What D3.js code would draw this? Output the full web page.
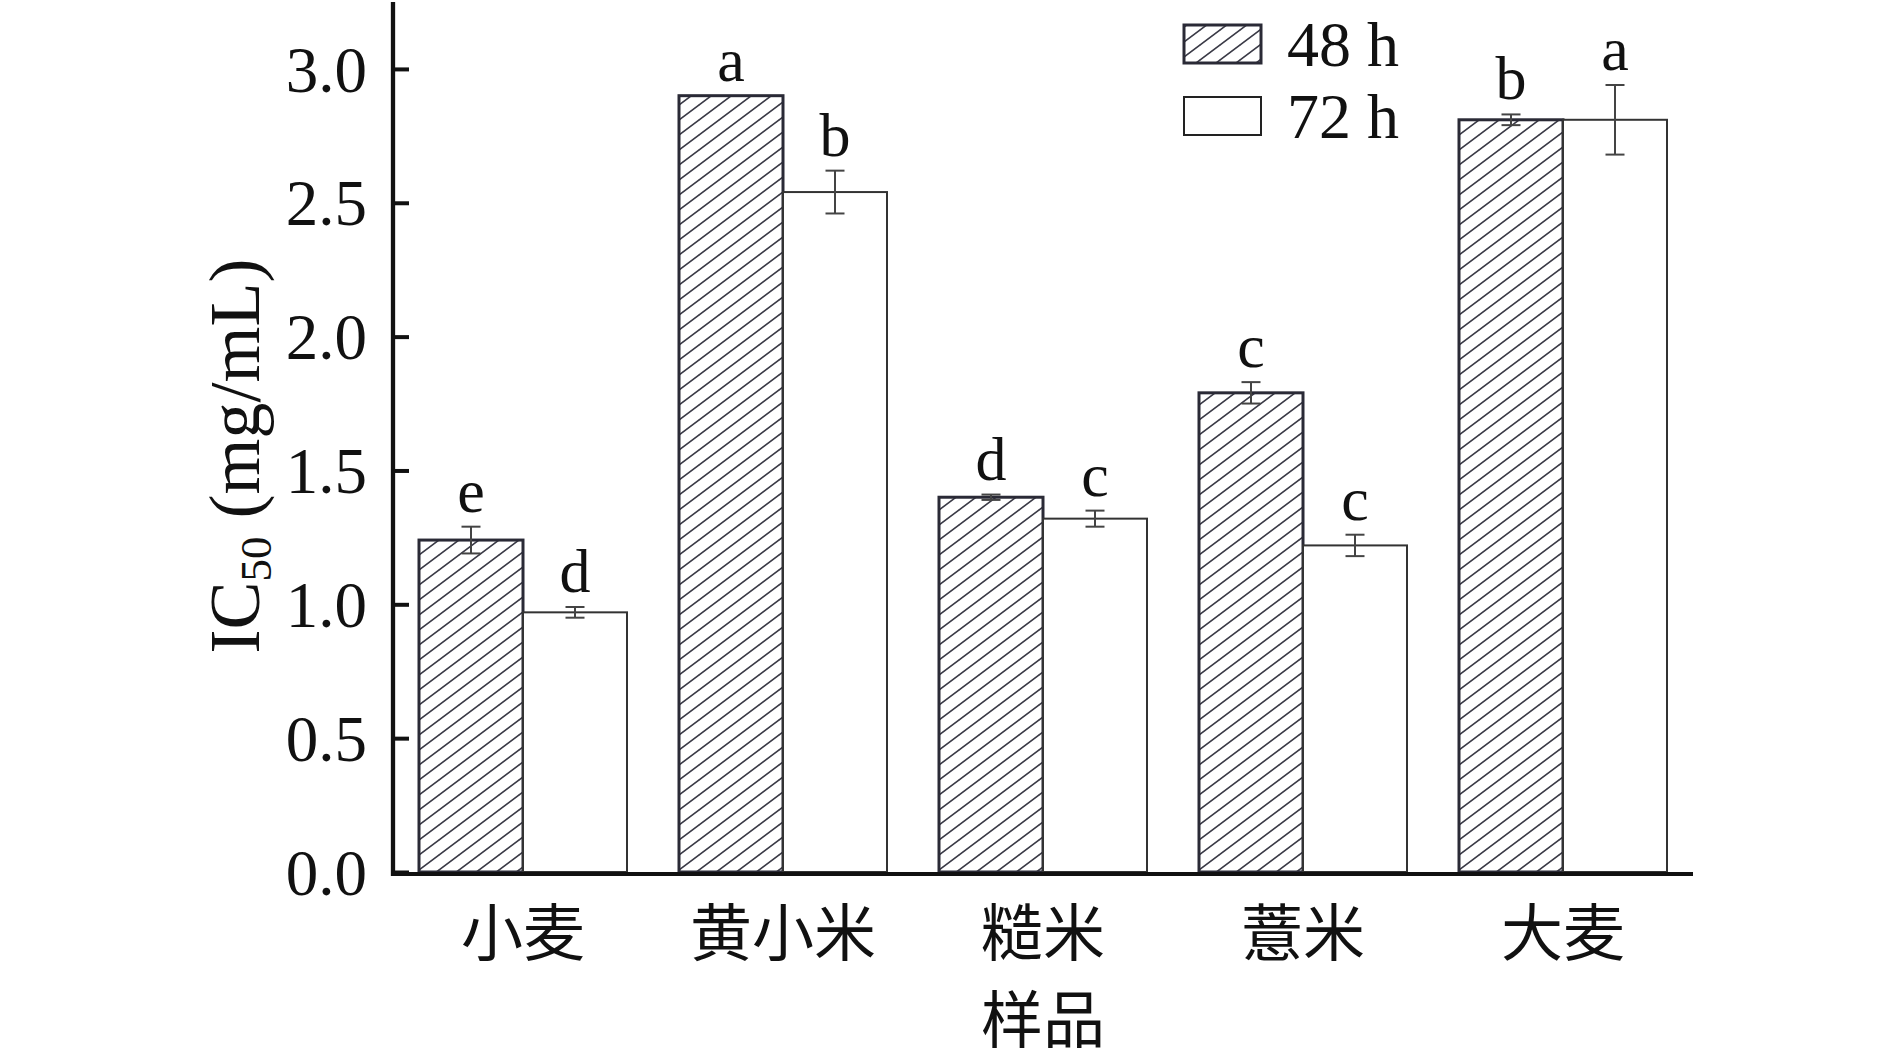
<!DOCTYPE html>
<html>
<head>
<meta charset="utf-8">
<script src="https://cdn.jsdelivr.net/npm/d3@7"></script>
<style>
  html, body { margin: 0; padding: 0; background: #fff; }
  svg { display: block; }
</style>
</head>
<body>
<svg id="chart" width="1890" height="1063"></svg>
<script>
// ---- data ----
const categories = ["小麦", "黄小米", "糙米", "薏米", "大麦"];
const seriesNames = ["48 h", "72 h"];
const values48 = [1.24, 2.90, 1.40, 1.79, 2.81];
const values72 = [0.97, 2.54, 1.32, 1.22, 2.81];
const errors48 = [0.05, 0.00, 0.01, 0.04, 0.02];
const errors72 = [0.02, 0.08, 0.03, 0.04, 0.13];
const letters48 = ["e", "a", "d", "c", "b"];
const letters72 = ["d", "b", "c", "c", "a"];
const yTicks = [0, 0.5, 1.0, 1.5, 2.0, 2.5, 3.0];
const yTitle = "IC";
const ySub = "50";
const yUnit = " (mg/mL)";
const xTitle = "样品";

// ---- layout ----
const svg = d3.select("#chart");
const serif = "'Liberation Serif', 'Times New Roman', serif";
const cjk = "'Noto Sans CJK SC', 'Noto Sans CJK JP', sans-serif";

const x0 = d3.scaleBand().domain(categories).range([393, 1693]).paddingInner(0.2).paddingOuter(0.1);
const x1 = d3.scaleBand().domain(seriesNames).range([0, x0.bandwidth()]);
const y = d3.scaleLinear().domain([0, 3.25]).range([872, 2]);

const defs = svg.append("defs");
const pat = defs.append("pattern")
  .attr("id", "hatch").attr("patternUnits", "userSpaceOnUse")
  .attr("width", 20).attr("height", 15);
pat.append("rect").attr("width", 20).attr("height", 15).attr("fill", "#fff");
pat.append("path")
  .attr("d", "M-20,15 L0,0 M0,15 L20,0 M20,15 L40,0 M-20,30 L0,15 M0,30 L20,15 M0,0 L20,-15 M-20,0 L0,-15 M20,30 L40,15")
  .attr("stroke", "#3a3a46").attr("stroke-width", 1.6).attr("fill", "none");

const rows = categories.map((c, i) => ({
  cat: c,
  items: [
    { s: "48 h", v: values48[i], e: errors48[i], l: letters48[i] },
    { s: "72 h", v: values72[i], e: errors72[i], l: letters72[i] }
  ]
}));

const g = svg.append("g");
const groups = g.selectAll("g.grp").data(rows).join("g")
  .attr("class", "grp")
  .attr("transform", d => `translate(${x0(d.cat)},0)`);

groups.selectAll("rect").data(d => d.items).join("rect")
  .attr("x", d => x1(d.s))
  .attr("y", d => y(d.v))
  .attr("width", x1.bandwidth())
  .attr("height", d => y(0) - y(d.v))
  .attr("fill", d => d.s === "48 h" ? "url(#hatch)" : "#fff")
  .attr("stroke", d => d.s === "48 h" ? "#2a2a36" : "#333")
  .attr("stroke-width", d => d.s === "48 h" ? 3 : 2);

// error bars
const eb = groups.selectAll("g.eb").data(d => d.items.filter(it => it.e > 0)).join("g")
  .attr("class", "eb")
  .attr("stroke", "#444").attr("stroke-width", 2);
eb.append("line")
  .attr("x1", d => x1(d.s) + x1.bandwidth() / 2).attr("x2", d => x1(d.s) + x1.bandwidth() / 2)
  .attr("y1", d => y(d.v + d.e)).attr("y2", d => y(d.v - d.e));
eb.append("line")
  .attr("x1", d => x1(d.s) + x1.bandwidth() / 2 - 9.5).attr("x2", d => x1(d.s) + x1.bandwidth() / 2 + 9.5)
  .attr("y1", d => y(d.v + d.e)).attr("y2", d => y(d.v + d.e));
eb.append("line")
  .attr("x1", d => x1(d.s) + x1.bandwidth() / 2 - 9.5).attr("x2", d => x1(d.s) + x1.bandwidth() / 2 + 9.5)
  .attr("y1", d => y(d.v - d.e)).attr("y2", d => y(d.v - d.e));

// significance letters
groups.selectAll("text.sig").data(d => d.items).join("text")
  .attr("class", "sig")
  .attr("x", d => x1(d.s) + x1.bandwidth() / 2)
  .attr("y", d => y(d.v + d.e) - 15)
  .attr("text-anchor", "middle")
  .attr("font-family", serif).attr("font-size", 62)
  .attr("fill", "#111")
  .text(d => d.l);

// axes
const yAxis = d3.axisRight(y).tickValues(yTicks).tickSize(16).tickFormat(d3.format(".1f"));
const ya = svg.append("g").attr("transform", "translate(393,0)").call(yAxis);
ya.select(".domain").remove();
ya.selectAll(".tick line").attr("stroke", "#111").attr("stroke-width", 4);
ya.selectAll(".tick text")
  .attr("x", -26).attr("dy", "0.34em")
  .attr("text-anchor", "end")
  .attr("font-family", serif).attr("font-size", 65).attr("fill", "#111");
svg.append("line").attr("x1", 393).attr("x2", 393).attr("y1", 2).attr("y2", 876)
  .attr("stroke", "#111").attr("stroke-width", 4.3);
svg.append("line").attr("x1", 391).attr("x2", 1693).attr("y1", 874).attr("y2", 874)
  .attr("stroke", "#111").attr("stroke-width", 4);

// category labels
svg.append("g").selectAll("text").data(categories).join("text")
  .attr("x", d => x0(d) + x0.bandwidth() / 2)
  .attr("y", 956)
  .attr("text-anchor", "middle")
  .attr("font-family", cjk).attr("font-size", 62).attr("fill", "#111")
  .text(d => d);

svg.append("text")
  .attr("x", x0(categories[2]) + x0.bandwidth() / 2)
  .attr("y", 1043)
  .attr("text-anchor", "middle")
  .attr("font-family", cjk).attr("font-size", 62).attr("fill", "#111")
  .text(xTitle);

// y title
const yt = svg.append("text")
  .attr("transform", "translate(259,456) rotate(-90)")
  .attr("text-anchor", "middle")
  .attr("font-family", serif).attr("font-size", 72).attr("fill", "#111");
yt.append("tspan").text(yTitle);
yt.append("tspan").attr("font-size", 45).attr("dy", 12).text(ySub);
yt.append("tspan").attr("dy", -12).text(yUnit);

// legend
const leg = svg.append("g");
const legRows = [
  { s: seriesNames[0], fill: "url(#hatch)", stroke: "#2a2a36", sw: 3, y: 25 },
  { s: seriesNames[1], fill: "#fff", stroke: "#222", sw: 2, y: 97 }
];
leg.selectAll("rect").data(legRows).join("rect")
  .attr("x", 1184).attr("y", d => d.y).attr("width", 77).attr("height", 38)
  .attr("fill", d => d.fill).attr("stroke", d => d.stroke).attr("stroke-width", d => d.sw);
leg.selectAll("text").data(legRows).join("text")
  .attr("x", 1287).attr("y", d => d.y + 41)
  .attr("font-family", serif).attr("font-size", 64).attr("fill", "#111")
  .text(d => d.s);
</script>
</body>
</html>
